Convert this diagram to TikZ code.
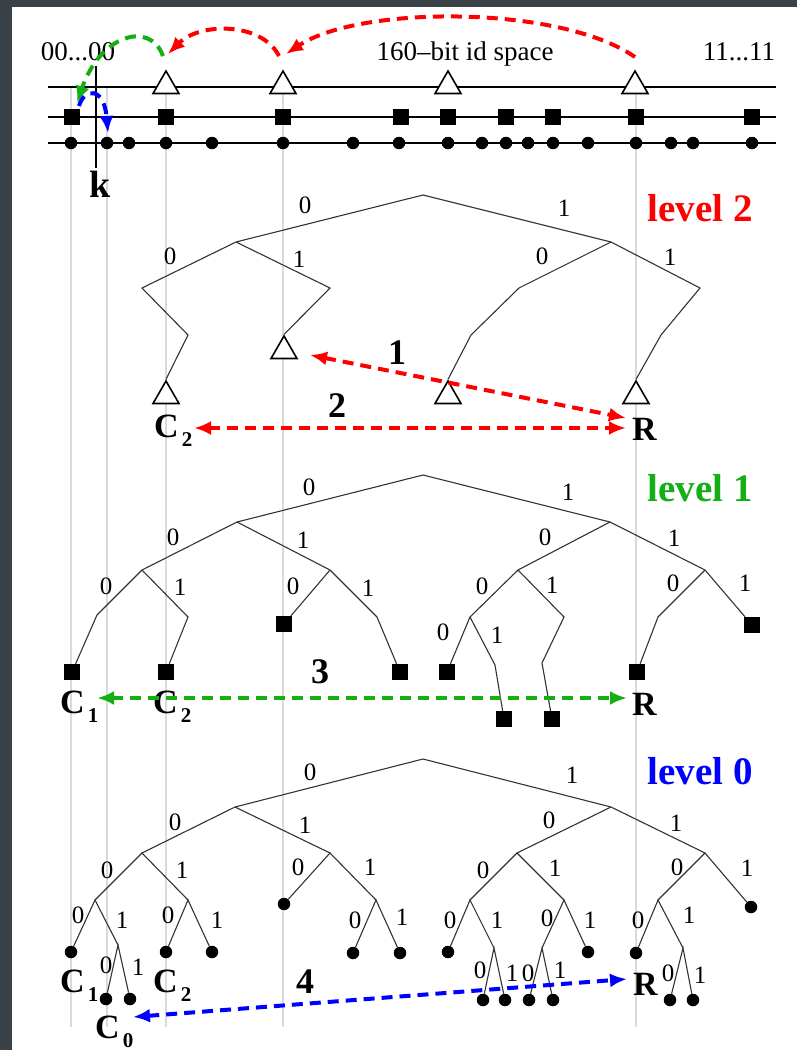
\documentclass[tikz,border=0pt]{standalone}
\usepackage{fontspec}
\setmainfont{Liberation Serif}
\usetikzlibrary{arrows.meta,shapes.geometric}
\definecolor{frame}{RGB}{59,66,71}
\definecolor{lgreen}{RGB}{20,175,20}
\definecolor{vgray}{RGB}{218,218,218}
\newcommand{\Clab}[1]{{\fontsize{34}{34}\selectfont\bfseries C}\kern3pt\raisebox{-9pt}{\fontsize{21}{21}\selectfont\bfseries #1}}
\tikzset{
 tri/.style={regular polygon, regular polygon sides=3, draw=black, line width=1.6pt, fill=white, minimum size=30pt, inner sep=0pt},
 sq/.style={rectangle, fill=black, minimum size=16pt, inner sep=0pt},
 dot/.style={circle, fill=black, minimum size=12.5pt, inner sep=0pt},
 edge/.style={line width=1.1pt, black!80},
 axis/.style={line width=1.6pt, black},
 lab/.style={font=\fontsize{25}{25}\selectfont, inner sep=0pt},
 head/.style={font=\fontsize{27}{27}\selectfont, inner sep=0pt, anchor=base},
 big/.style={font=\fontsize{36}{36}\selectfont\bfseries, inner sep=0pt},
 lvl/.style={font=\fontsize{39}{39}\selectfont\bfseries, inner sep=0pt},
 clab/.style={inner sep=0pt, anchor=base west},
 dsh/.style={line width=4pt, dash pattern=on 11pt off 7pt},
 link/.style={dsh, arrows={Latex[length=17pt,width=14pt]-Latex[length=17pt,width=14pt]}},
 onelink/.style={dsh, arrows={-Latex[length=17pt,width=14pt]}},
 guide/.style={line width=1.1pt, vgray}
}
\begin{document}
\begin{tikzpicture}[x=1pt,y=-1pt]
\path[use as bounding box, fill=frame] (0,0) rectangle (797,1050);
\fill[white] (12,7) rectangle (797,1050);
% guide lines
\foreach \x [count=\i] in {71,107,166,283,636}{
  \coordinate (gt\i) at (\x,87);
  \coordinate (gb\i) at (\x,1027);
  \draw[guide] (gt\i) -- (gb\i);
}
% id space
\node[head] (t00) at (78,60) {00...00};
\node[head] (tid) at (465,60) {160--bit id space};
\node[head] (t11) at (739,60) {11...11};
\coordinate (l1a) at (48,87); \coordinate (l1b) at (776,87);
\coordinate (l2a) at (48,117); \coordinate (l2b) at (776,117);
\coordinate (l3a) at (48,143); \coordinate (l3b) at (776,143);
\draw[axis] (l1a) -- (l1b);
\draw[axis] (l2a) -- (l2b);
\draw[axis] (l3a) -- (l3b);
\coordinate (ktop) at (96,66); \coordinate (kbot) at (96,168);
\draw[axis] (ktop) -- (kbot);
\node[font=\fontsize{38}{38}\selectfont\bfseries, inner sep=0pt] (k) at (100,184) {k};
\foreach \x [count=\i] in {71,107,129,166,212,283,353,399,448,482,506,528,553,588,636,671,693,752}
  \node[dot] (d\i) at (\x,143) {};
\foreach \x [count=\i] in {72,166,283,401,448,506,553,636,752}
  \node[sq] (s\i) at (\x,117) {};
\foreach \x [count=\i] in {166,283,448,635}
  \node[tri] (tt\i) at (\x,86) {};
% top arcs
\coordinate (r1s) at (635,57); \coordinate (r1e) at (286,54);
\draw[onelink, red] (r1s) .. controls (560,5) and (360,5) .. (r1e);
\coordinate (r2s) at (279,56); \coordinate (r2e) at (168,54);
\draw[onelink, red] (r2s) .. controls (262,22) and (200,22) .. (r2e);
\coordinate (g1s) at (163,56); \coordinate (g1e) at (77,103);
\draw[onelink, lgreen] (g1s) .. controls (150,20) and (100,35) .. (g1e);
\coordinate (b1s) at (79,106); \coordinate (b1e) at (108,133);
\draw[onelink, blue] (b1s) .. controls (84,88) and (104,86) .. (b1e);

% ---------------- level 2
\node[lvl, red] (lv2) at (700,208) {level 2};
\coordinate (a) at (423,195);
\coordinate (aL) at (236,242);
\coordinate (aR) at (611,242);
\coordinate (aLLk1) at (142,288); \coordinate (aLLk2) at (188,335);
\node[tri] (aLL) at (166,396) {};
\coordinate (aLRk) at (330,288);
\node[tri] (aLR) at (284,351) {};
\coordinate (aRLk1) at (519,288); \coordinate (aRLk2) at (471,335);
\node[tri] (aRL) at (448,396) {};
\coordinate (aRRk1) at (700,288); \coordinate (aRRk2) at (661,335);
\node[tri] (aRR) at (636,396) {};
\draw[edge] (aL) -- (a) -- (aR);
\draw[edge] (aL) -- (aLLk1) -- (aLLk2) -- (aLL.north);
\draw[edge] (aL) -- (aLRk) -- (aLR.north);
\draw[edge] (aR) -- (aRLk1) -- (aRLk2) -- (aRL.north);
\draw[edge] (aR) -- (aRRk1) -- (aRRk2) -- (aRR.north);
\node[lab] (a0) at (305,205) {0};
\node[lab] (a1) at (564,208) {1};
\node[lab] (aL0) at (170,256) {0};
\node[lab] (aL1) at (299,259) {1};
\node[lab] (aR0) at (542,256) {0};
\node[lab] (aR1) at (670,257) {1};
\node[clab] (c2a) at (154,437) {\Clab{2}};
\node[clab] (ra) at (632,440) {\textbf{\fontsize{34}{34}\selectfont R}};
\node[big] (n1) at (397,353) {1};
\node[big] (n2) at (337,406) {2};
\coordinate (e1s) at (310,355); \coordinate (e1e) at (626,418);
\draw[link, red] (e1s) -- (e1e);
\coordinate (e2s) at (194,428); \coordinate (e2e) at (626,428);
\draw[link, red] (e2s) -- (e2e);

% ---------------- level 1
\node[lvl, lgreen] (lv1) at (700,488) {level 1};
\coordinate (b) at (423,475);
\coordinate (bL) at (237,522); \coordinate (bR) at (610,522);
\coordinate (bLL) at (142,570); \coordinate (bLR) at (330,570);
\coordinate (bLLk0) at (97,615); \node[sq] (bLLL) at (72,672) {};
\coordinate (bLLk1) at (188,617); \node[sq] (bLLR) at (166,672) {};
\node[sq] (bLRL) at (284,624) {};
\coordinate (bLRk) at (377,617); \node[sq] (bLRR) at (400,672) {};
\coordinate (bRL) at (518,570); \coordinate (bRR) at (705,570);
\coordinate (bRLL) at (470,617); \node[sq] (bRLLL) at (447,672) {};
\coordinate (bRLLk) at (495,665); \node[sq] (bRLLR) at (504,719) {};
\coordinate (bRLRk1) at (564,617); \coordinate (bRLRk2) at (542,663);
\node[sq] (bRLR) at (552,719) {};
\coordinate (bRRk) at (658,617); \node[sq] (bRRL) at (637,672) {};
\node[sq] (bRRR) at (752,625) {};
\draw[edge] (bL) -- (b) -- (bR);
\draw[edge] (bLL) -- (bL) -- (bLR);
\draw[edge] (bLL) -- (bLLk0) -- (bLLL);
\draw[edge] (bLL) -- (bLLk1) -- (bLLR);
\draw[edge] (bLR) -- (bLRL);
\draw[edge] (bLR) -- (bLRk) -- (bLRR);
\draw[edge] (bRL) -- (bR) -- (bRR);
\draw[edge] (bRL) -- (bRLL) -- (bRLLL);
\draw[edge] (bRLL) -- (bRLLk) -- (bRLLR);
\draw[edge] (bRL) -- (bRLRk1) -- (bRLRk2) -- (bRLR);
\draw[edge] (bRR) -- (bRRk) -- (bRRL);
\draw[edge] (bRR) -- (bRRR);
\foreach \x/\y/\t [count=\i] in {309/487/0,568/492/1,173/537/0,303/540/1,545/537/0,674/538/1,106/586/0,180/587/1,293/586/0,368/588/1,482/586/0,552/585/1,673/583/0,745/583/1,443/632/0,497/635/1}
  \node[lab] (bl\i) at (\x,\y) {\t};
\node[clab] (c1b) at (60,713) {\Clab{1}};
\node[clab] (c2b) at (153,713) {\Clab{2}};
\node[clab] (rb) at (632,715) {\textbf{\fontsize{34}{34}\selectfont R}};
\node[big] (n3) at (320,672) {3};
\coordinate (e3s) at (97,698); \coordinate (e3e) at (627,698);
\draw[link, lgreen] (e3s) -- (e3e);

% ---------------- level 0
\node[lvl, blue] (lv0) at (700,771) {level 0};
\coordinate (c) at (423,759);
\coordinate (cL) at (235,807); \coordinate (cR) at (611,807);
\coordinate (cLL) at (142,853); \coordinate (cLR) at (330,853);
\coordinate (cLLL) at (95,900); \coordinate (cLLR) at (188,900);
\node[dot] (cLLLL) at (71,952) {};
\coordinate (cLLLR) at (118,945);
\node[dot] (cLLLRL) at (106,999) {}; \node[dot] (cLLLRR) at (130,999) {};
\node[dot] (cLLRL) at (166,952) {}; \node[dot] (cLLRR) at (212,952) {};
\node[dot] (cLRL) at (284,904) {};
\coordinate (cLRR) at (376,900);
\node[dot] (cLRRL) at (353,953) {}; \node[dot] (cLRRR) at (400,953) {};
\coordinate (cRL) at (517,853); \coordinate (cRR) at (705,853);
\coordinate (cRLL) at (470,900); \coordinate (cRLR) at (564,900);
\node[dot] (cRLLL) at (448,952) {};
\coordinate (cRLLR) at (494,948);
\node[dot] (cRLLRL) at (483,1000) {}; \node[dot] (cRLLRR) at (505,1000) {};
\coordinate (cRLRL) at (542,948);
\node[dot] (cRLRLL) at (529,1000) {}; \node[dot] (cRLRLR) at (553,1000) {};
\node[dot] (cRLRR) at (588,952) {};
\coordinate (cRRL) at (658,900);
\node[dot] (cRRR) at (751,907) {};
\node[dot] (cRRLL) at (636,953) {};
\coordinate (cRRLR) at (683,948);
\node[dot] (cRRLRL) at (670,1000) {}; \node[dot] (cRRLRR) at (693,1000) {};
\draw[edge] (cL) -- (c) -- (cR);
\draw[edge] (cLL) -- (cL) -- (cLR);
\draw[edge] (cLLL) -- (cLL) -- (cLLR);
\draw[edge] (cLLLL) -- (cLLL) -- (cLLLR);
\draw[edge] (cLLLRL) -- (cLLLR) -- (cLLLRR);
\draw[edge] (cLLRL) -- (cLLR) -- (cLLRR);
\draw[edge] (cLRL) -- (cLR) -- (cLRR);
\draw[edge] (cLRRL) -- (cLRR) -- (cLRRR);
\draw[edge] (cRL) -- (cR) -- (cRR);
\draw[edge] (cRLL) -- (cRL) -- (cRLR);
\draw[edge] (cRLLL) -- (cRLL) -- (cRLLR);
\draw[edge] (cRLLRL) -- (cRLLR) -- (cRLLRR);
\draw[edge] (cRLRL) -- (cRLR) -- (cRLRR);
\draw[edge] (cRLRLL) -- (cRLRL) -- (cRLRLR);
\draw[edge] (cRRL) -- (cRR) -- (cRRR);
\draw[edge] (cRRLL) -- (cRRL) -- (cRRLR);
\draw[edge] (cRRLRL) -- (cRRLR) -- (cRRLRR);
\foreach \x/\y/\t [count=\i] in {310/772/0,572/775/1,175/822/0,305/825/1,549/820/0,676/823/1,107/870/0,182/870/1,298/867/0,370/867/1,483/870/0,555/868/1,677/867/0,747/868/1,78/915/0,122/920/1,168/915/0,217/920/1,355/920/0,402/917/1,450/920/0,497/920/1,547/918/0,590/920/1,638/920/0,689/915/1,106/965/0,138/967/1,480/970/0,512/973/1,528/973/0,560/970/1,668/973/0,700/975/1}
  \node[lab] (cl\i) at (\x,\y) {\t};
\node[clab] (c1c) at (60,992) {\Clab{1}};
\node[clab] (c2c) at (153,992) {\Clab{2}};
\node[clab] (c0c) at (95,1038) {\Clab{0}};
\node[clab] (rc) at (633,995) {\textbf{\fontsize{34}{34}\selectfont R}};
\node[big] (n4) at (305,982) {4};
\coordinate (e4s) at (133,1017); \coordinate (e4e) at (627,979);
\draw[link, blue] (e4s) -- (e4e);
\end{tikzpicture}
\end{document}
